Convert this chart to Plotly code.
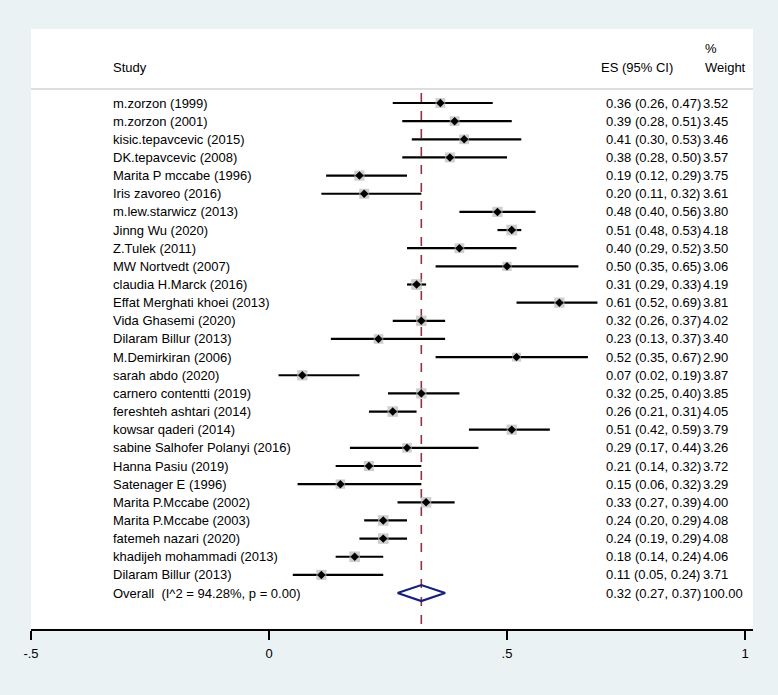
import plotly.graph_objects as go

studies = ["m.zorzon (1999)", "m.zorzon (2001)", "kisic.tepavcevic (2015)", "DK.tepavcevic (2008)",
           "Marita P mccabe (1996)", "Iris zavoreo (2016)", "m.lew.starwicz (2013)", "Jinng Wu (2020)",
           "Z.Tulek (2011)", "MW Nortvedt (2007)", "claudia H.Marck (2016)", "Effat Merghati khoei (2013)",
           "Vida Ghasemi (2020)", "Dilaram Billur (2013)", "M.Demirkiran (2006)", "sarah abdo (2020)",
           "carnero contentti (2019)", "fereshteh ashtari (2014)", "kowsar qaderi (2014)",
           "sabine Salhofer Polanyi (2016)", "Hanna Pasiu (2019)", "Satenager E (1996)",
           "Marita P.Mccabe (2002)", "Marita P.Mccabe (2003)", "fatemeh nazari (2020)",
           "khadijeh mohammadi (2013)", "Dilaram Billur (2013)"]
es = [0.36, 0.39, 0.41, 0.38, 0.19, 0.20, 0.48, 0.51, 0.40, 0.50, 0.31, 0.61, 0.32, 0.23, 0.52,
      0.07, 0.32, 0.26, 0.51, 0.29, 0.21, 0.15, 0.33, 0.24, 0.24, 0.18, 0.11]
lo = [0.26, 0.28, 0.30, 0.28, 0.12, 0.11, 0.40, 0.48, 0.29, 0.35, 0.29, 0.52, 0.26, 0.13, 0.35,
      0.02, 0.25, 0.21, 0.42, 0.17, 0.14, 0.06, 0.27, 0.20, 0.19, 0.14, 0.05]
hi = [0.47, 0.51, 0.53, 0.50, 0.29, 0.32, 0.56, 0.53, 0.52, 0.65, 0.33, 0.69, 0.37, 0.37, 0.67,
      0.19, 0.40, 0.31, 0.59, 0.44, 0.32, 0.32, 0.39, 0.29, 0.29, 0.24, 0.24]
weight = [3.52, 3.45, 3.46, 3.57, 3.75, 3.61, 3.80, 4.18, 3.50, 3.06, 4.19, 3.81, 4.02, 3.40, 2.90,
          3.87, 3.85, 4.05, 3.79, 3.26, 3.72, 3.29, 4.00, 4.08, 4.08, 4.06, 3.71]
overall_label = "Overall\u00a0\u00a0(I^2 = 94.28%, p = 0.00)"
overall_es, overall_lo, overall_hi, overall_w = 0.32, 0.27, 0.37, 100.00
tick_vals = [-0.5, 0, 0.5, 1]
tick_text = ["-.5", "0", ".5", "1"]

FONT = "Arial, Liberation Sans, Helvetica, sans-serif"
BG = "#EAF2F3"
n = len(studies)
ys = [-i for i in range(n)]
y_over = -n
YTOP, YBOT = 4.077, -28.98
X_STUDY, X_ES, X_W = -0.3315, 0.7035, 0.9075

fig = go.Figure()

# CI lines
cx, cy = [], []
for l, h, y in zip(lo, hi, ys):
    cx += [l, h, None]
    cy += [y, y, None]
fig.add_trace(go.Scatter(x=cx, y=cy, mode="lines", line=dict(color="black", width=2.2),
                         hoverinfo="skip", showlegend=False))
# weight boxes
fig.add_trace(go.Scatter(x=es, y=ys, mode="markers",
                         marker=dict(symbol="square", color="#B9B9B9",
                                     size=[10.5 * (w / 4.0) ** 0.5 for w in weight], line=dict(width=0)),
                         hoverinfo="skip", showlegend=False))
# point estimates
fig.add_trace(go.Scatter(x=es, y=ys, mode="markers",
                         marker=dict(symbol="diamond", color="black", size=6.5, line=dict(width=0)),
                         showlegend=False))
# overall diamond
hh = 0.44
fig.add_trace(go.Scatter(x=[overall_lo, overall_es, overall_hi, overall_es, overall_lo],
                         y=[y_over, y_over + hh, y_over, y_over - hh, y_over],
                         mode="lines", line=dict(color="#16207A", width=2.2),
                         hoverinfo="skip", showlegend=False))

ann = []
def txt(x, y, t):
    ann.append(dict(x=x, y=y, xref="x", yref="y", text=t, showarrow=False, xanchor="left",
                    yanchor="middle", font=dict(family=FONT, size=13, color="black")))

for s, e, l, h, w, y in zip(studies, es, lo, hi, weight, ys):
    txt(X_STUDY, y, s)
    txt(X_ES, y, f"{e:.2f} ({l:.2f}, {h:.2f})")
    txt(X_W, y, f"{w:.2f}")
txt(X_STUDY, y_over, overall_label)
txt(X_ES, y_over, f"{overall_es:.2f} ({overall_lo:.2f}, {overall_hi:.2f})")
txt(X_W, y_over, f"{overall_w:.2f}")
# headers
txt(X_STUDY, 1.93, "Study")
txt(X_ES - 0.0095, 1.93, "ES (95% CI)")
txt(X_W + 0.004, 1.93, "Weight")
txt(X_W + 0.004, 3.03, "%")

shapes = [
    dict(type="line", xref="paper", yref="y", x0=0, x1=1, y0=0.77, y1=0.77,
         line=dict(color="#D2D2D2", width=1.5), layer="below"),
    dict(type="line", xref="x", yref="y", x0=overall_es, x1=overall_es, y0=0.55, y1=YBOT,
         line=dict(color="#93323C", width=1.6, dash="dash"), layer="below"),
]

fig.update_layout(
    width=778, height=695,
    margin=dict(l=31, r=25, t=29, b=66, pad=0),
    paper_bgcolor=BG, plot_bgcolor="white",
    annotations=ann, shapes=shapes, showlegend=False,
    xaxis=dict(range=[-0.5, 1.0168], showgrid=False, zeroline=False, showline=True,
               linecolor="black", linewidth=1.6, ticks="outside", ticklen=9, tickwidth=1.6,
               tickcolor="black", tickvals=tick_vals, ticktext=tick_text, ticklabelstandoff=3,
               tickfont=dict(family=FONT, size=13, color="black"), fixedrange=True),
    yaxis=dict(range=[YBOT, YTOP], visible=False, showgrid=False, zeroline=False, fixedrange=True),
)

fig.write_html("out.html", config={"displayModeBar": False},
               post_script=f"document.body.style.margin='0';document.body.style.overflow='hidden';"
                           f"document.body.style.background='{BG}';")
